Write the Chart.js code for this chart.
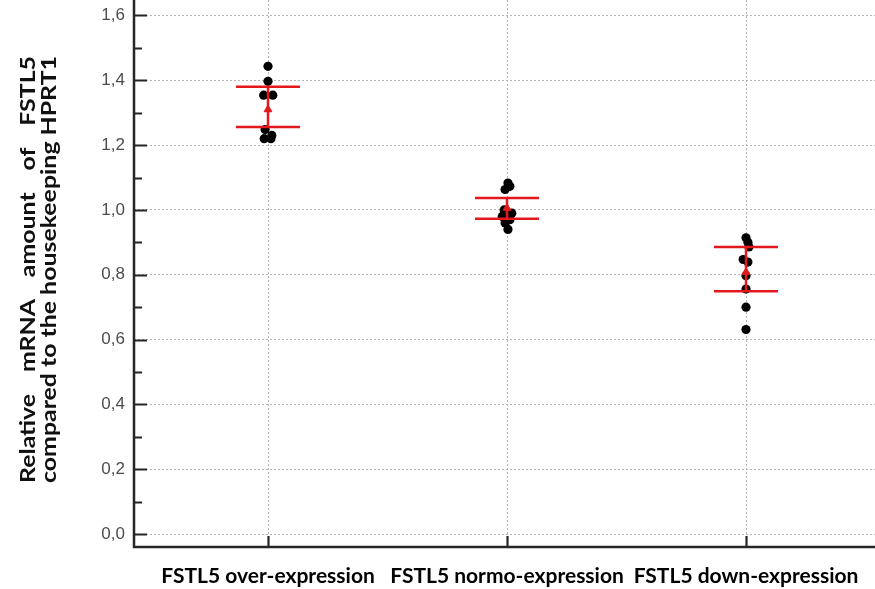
<!DOCTYPE html>
<html>
<head>
<meta charset="utf-8">
<script src="https://cdn.jsdelivr.net/npm/chart.js@4.4.1/dist/chart.umd.min.js"></script>
<style>
  html, body { margin: 0; padding: 0; background: #ffffff; }
  #wrap { width: 875px; height: 589px; position: relative; }
</style>
</head>
<body>
<div id="wrap"><canvas id="chart"></canvas></div>
<script>
// Groups on the x axis
const categories = ['FSTL5 over-expression', 'FSTL5 normo-expression', 'FSTL5 down-expression'];

// Relative FSTL5 mRNA per sample, one array per group
const overExpression  = [1.443, 1.397, 1.354, 1.354, 1.248, 1.230, 1.220, 1.220];
const normoExpression = [1.083, 1.073, 1.063, 1.000, 0.990, 0.980, 0.970, 0.960, 0.940];
const downExpression  = [0.914, 0.900, 0.886, 0.847, 0.839, 0.797, 0.756, 0.700, 0.631];

// Group mean and the upper / lower limits of the red error bars
const groupMeans = [1.310, 1.006, 0.808];
const barUpper   = [1.380, 1.037, 0.886];
const barLower   = [1.256, 0.973, 0.749];

// Axis ticks
const yMajorTicks = [0, 0.2, 0.4, 0.6, 0.8, 1.0, 1.2, 1.4, 1.6];
const yMinorTicks = [0.1, 0.3, 0.5, 0.7, 0.9, 1.1, 1.3, 1.5];
const yTitleLines = ['Relative mRNA amount of FSTL5', 'compared to the housekeeping HPRT1'];

// Sideways spread of the dots inside a group (in category units) so overlapping samples stay visible
const spread = [
  [0, 0, -0.018, 0.02, -0.012, 0.016, -0.016, 0.012],
  [0.004, 0.012, -0.008, -0.012, 0.02, -0.02, 0.012, -0.008, 0.004],
  [0, 0.008, 0.012, -0.012, 0.008, 0, 0, 0, 0]
];

const groups = [overExpression, normoExpression, downExpression];
const samplePoints = [];
groups.forEach((vals, g) => {
  vals.forEach((v, j) => samplePoints.push({ x: g + 1 + spread[g][j], y: v }));
});
const meanPoints = groupMeans.map((m, g) => ({ x: g + 1, y: m }));

const RED = '#e3191d';
const AXIS = '#262626';

// Red error bars: caps at the upper / lower limits joined by a vertical line
const errorBarPlugin = {
  id: 'errorBars',
  afterDatasetsDraw(chart) {
    const { ctx, scales: { x, y } } = chart;
    ctx.save();
    ctx.strokeStyle = RED;
    ctx.lineWidth = 2.5;
    groupMeans.forEach((m, g) => {
      const xp = x.getPixelForValue(g + 1);
      const yu = y.getPixelForValue(barUpper[g]);
      const yl = y.getPixelForValue(barLower[g]);
      ctx.beginPath();
      ctx.moveTo(xp - 32, yu); ctx.lineTo(xp + 32, yu);
      ctx.moveTo(xp - 32, yl); ctx.lineTo(xp + 32, yl);
      ctx.moveTo(xp, yl); ctx.lineTo(xp, yu);
      ctx.stroke();
    });
    ctx.restore();
  }
};

// Solid axis lines with inward tick marks
const axisFramePlugin = {
  id: 'axisFrame',
  afterDraw(chart) {
    const { ctx, chartArea: a, scales: { x, y } } = chart;
    ctx.save();
    ctx.strokeStyle = AXIS;
    ctx.lineWidth = 2.5;
    ctx.beginPath();
    ctx.moveTo(a.left, a.top); ctx.lineTo(a.left, a.bottom);
    ctx.lineTo(a.right, a.bottom);
    ctx.stroke();
    ctx.lineWidth = 2.2;
    ctx.beginPath();
    yMajorTicks.forEach(v => {
      const yp = Math.round(y.getPixelForValue(v)) + 0.5;
      ctx.moveTo(a.left, yp); ctx.lineTo(a.left + 13, yp);
    });
    yMinorTicks.forEach(v => {
      const yp = Math.round(y.getPixelForValue(v)) + 0.5;
      ctx.moveTo(a.left, yp); ctx.lineTo(a.left + 8, yp);
    });
    categories.forEach((c, g) => {
      const xp = Math.round(x.getPixelForValue(g + 1)) + 0.5;
      ctx.moveTo(xp, a.bottom); ctx.lineTo(xp, a.bottom - 11);
    });
    ctx.stroke();
    ctx.restore();
  }
};

// Two-line vertical title; the first line is justified to the length of the second
const yTitlePlugin = {
  id: 'yTitle',
  afterDraw(chart) {
    const { ctx } = chart;
    const length = 427;
    const centre = 269.5;
    const baselines = [35, 56];
    ctx.save();
    ctx.fillStyle = '#111';
    ctx.font = 'bold 21px Lato';
    ctx.textBaseline = 'alphabetic';
    const natural = ctx.measureText(yTitleLines[1]).width;
    const stretch = length / natural;
    yTitleLines.forEach((line, i) => {
      ctx.save();
      ctx.translate(baselines[i], centre);
      ctx.rotate(-Math.PI / 2);
      ctx.scale(stretch, 1);
      const half = natural / 2;
      if (i === 0) {
        const words = line.split(' ');
        const wordsWidth = words.reduce((s, w) => s + ctx.measureText(w).width, 0);
        const gap = (natural - wordsWidth) / (words.length - 1);
        let pos = -half;
        words.forEach(w => {
          ctx.fillText(w, pos, 0);
          pos += ctx.measureText(w).width + gap;
        });
      } else {
        ctx.fillText(line, -half, 0);
      }
      ctx.restore();
    });
    ctx.restore();
  }
};

new Chart(document.getElementById('chart'), {
  type: 'scatter',
  data: {
    datasets: [
      {
        label: 'Means',
        data: meanPoints,
        pointStyle: 'triangle',
        pointRadius: 4.5,
        backgroundColor: RED,
        borderColor: RED,
        borderWidth: 1,
        order: 0
      },
      {
        label: 'Samples',
        data: samplePoints,
        pointStyle: 'circle',
        pointRadius: 4.6,
        backgroundColor: '#000000',
        borderColor: '#000000',
        borderWidth: 0,
        order: 1
      }
    ]
  },
  options: {
    responsive: true,
    maintainAspectRatio: false,
    animation: false,
    layout: { autoPadding: false, padding: { top: 0, right: 0, bottom: 0, left: 0 } },
    plugins: {
      legend: { display: false },
      tooltip: { enabled: false },
      title: { display: false }
    },
    scales: {
      x: {
        type: 'linear',
        min: 0.4393,
        max: 3.5397,
        afterBuildTicks(scale) { scale.ticks = categories.map((c, g) => ({ value: g + 1 })); },
        afterFit(scale) {
          scale.height = 42;
          scale.paddingLeft = 0; scale.paddingRight = 0;
          scale.paddingTop = 0; scale.paddingBottom = 0;
        },
        ticks: {
          autoSkip: false,
          maxRotation: 0,
          padding: 17,
          color: '#000',
          font: { family: 'Lato', size: 21, weight: 'bold' },
          callback: (v) => categories[Math.round(v) - 1]
        },
        grid: { color: '#b3b3b3', lineWidth: 1, drawTicks: false },
        border: { display: false, dash: [2, 2] }
      },
      y: {
        type: 'linear',
        min: -0.0401,
        max: 1.6478,
        afterBuildTicks(scale) { scale.ticks = yMajorTicks.map(v => ({ value: v })); },
        afterFit(scale) {
          scale.width = 134;
          scale.paddingLeft = 0; scale.paddingRight = 0;
          scale.paddingTop = 0; scale.paddingBottom = 0;
        },
        ticks: {
          padding: 9,
          color: '#4d4d4d',
          font: { family: 'Liberation Sans', size: 17 },
          callback: (v) => v.toFixed(1).replace('.', ',')
        },
        grid: { color: '#b3b3b3', lineWidth: 1, drawTicks: false },
        border: { display: false, dash: [2, 2] }
      }
    }
  },
  plugins: [errorBarPlugin, axisFramePlugin, yTitlePlugin]
});
</script>
</body>
</html>
